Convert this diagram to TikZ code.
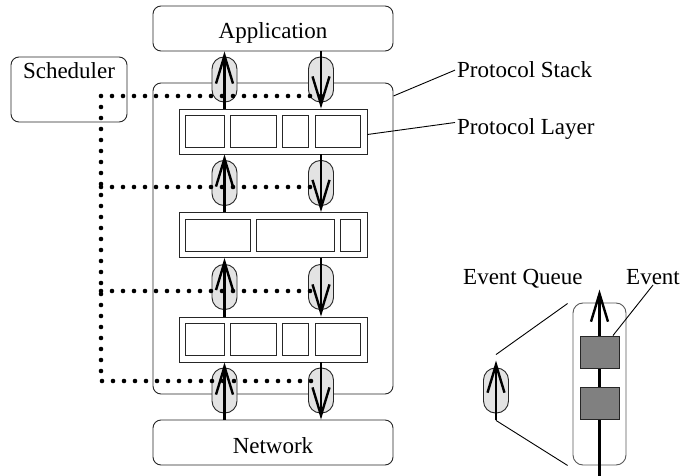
\documentclass[tikz,border=0pt]{standalone}
\usepackage{fontspec}
\setmainfont{Liberation Serif}
\usetikzlibrary{arrows.meta,calc,positioning}

\tikzset{
	box/.style={draw=black!85, line width=0.9pt, rounded corners=8pt},
	layer/.style={draw=black!85, line width=0.9pt, minimum width=188pt, minimum height=45pt},
	slot/.style={draw=black!85, line width=0.9pt},
	queue/.style={draw=black!85, line width=0.9pt, fill=black!11, rounded corners=12pt, minimum width=25pt, minimum height=45pt},
	event/.style={draw=black!85, line width=0.9pt, fill=black!50, minimum width=39pt, minimum height=32pt},
	flow/.style={line width=2.4pt, -{Straight Barb[length=28pt,width=17pt]}},
	sched/.style={line width=4.6pt, line cap=round, dash pattern=on 0pt off 11pt},
	leader/.style={line width=0.9pt},
	lbl/.style={inner sep=2pt, anchor=base west}
}

\begin{document}
\begin{tikzpicture}[x=1pt, y=-1pt, font=\fontsize{23}{27}\selectfont]
			\useasboundingbox (0,0) rectangle (681,476);
			%%%%% STACK %%%%%
			
			\node[box, minimum width=240pt, minimum height=45pt, text height=21pt, text depth=0pt] (app) at (273,28.5) {Application};
			\node[box, minimum width=240pt, minimum height=45pt, text height=21pt, text depth=0pt] (net) at (273,442.5) {Network};
			\node[box, minimum width=240pt, minimum height=311pt] (stack) at (273,238.5) {};
			\node[box, minimum width=116pt, minimum height=65pt] (sched) at (69,89.5) {};
			\node[anchor=base] (schedname) at (69,79) {Scheduler};
			
			\node[layer] (layer1) at (273,131.5) {};
			\node[layer] (layer2) at (273,235) {};
			\node[layer] (layer3) at (273,339.5) {};
			
			\foreach \y in {131.5,339.5}
				\foreach \a/\b in {185/224,230/276,282/308,315/360}
					\draw[slot] (\a,\y-16) rectangle (\b,\y+16);
			\foreach \a/\b in {185/250,256/334,340/360}
				\draw[slot] (\a,219) rectangle (\b,251);
			
			\foreach \n/\y in {1/79.5,2/183,3/287,4/390.5} {
				\node[queue] (ql\n) at (224.5,\y) {};
				\node[queue] (qr\n) at (321,\y) {};
			}
			
			%%%%% SCHEDULER LINKS %%%%%
			\coordinate (d1) at (101,96);
			\coordinate (d2) at (101,187);
			\coordinate (d3) at (101,291);
			\coordinate (d4) at (101,381);
			\draw[sched] (qr1 |- d1) -- (d1) -- (d4) -- (qr4 |- d4);
			\draw[sched] (d2) -- (qr2 |- d2);
			\draw[sched] (d3) -- (qr3 |- d3);
			
			\foreach \up/\dn [count=\n] in {app/layer1,layer1/layer2,layer2/layer3,layer3/net} {
				\draw[flow] (\dn.north -| ql\n) -- (\up.south -| ql\n);
				\draw[flow] (\up.south -| qr\n) -- (\dn.north -| qr\n);
			}
			
			\node[lbl] (stacklbl) at (455,78) {Protocol Stack};
			\node[lbl] (layerlbl) at (455,135) {Protocol Layer};
			\draw[leader] (stack.east |- d1) -- (stacklbl.west);
			\draw[leader] ($(layer1.east)+(0,3)$) -- ($(layerlbl.west)+(0,-7)$);
			
			%%%%% EVENT QUEUE %%%%%
			\node[queue] (qzoom) at (496,390.5) {};
			\draw[flow] ($(qzoom.south)+(0,7)$) -- ($(qzoom.north)+(0,-7)$);
			\node[box, draw=black!65, rounded corners=10pt, minimum width=53pt, minimum height=162pt] (evq) at (599.5,384) {};
			\draw[leader] ($(qzoom.north)+(0,-13)$) -- ($(evq.north west)+(-5,1)$);
			\draw[leader] ($(qzoom.south)+(0,7)$) -- ($(evq.south west)+(-5,0)$);
			\draw[flow] ($(evq.south)+(0,12)$) -- ($(evq.north)+(0,-13)$);
			\node[event] (ev1) at (600,352) {};
			\node[event] (ev2) at (600,403.5) {};
			
			\node[lbl] (evqlbl) at (461,284) {Event Queue};
			\node[lbl] (evlbl) at (624,284) {Event};
			\draw[leader] ($(ev1.north east)+(-7,0)$) -- ($(evlbl.base)+(0,1)$);
			
			%%%%% END %%%%%
\end{tikzpicture}
\end{document}
